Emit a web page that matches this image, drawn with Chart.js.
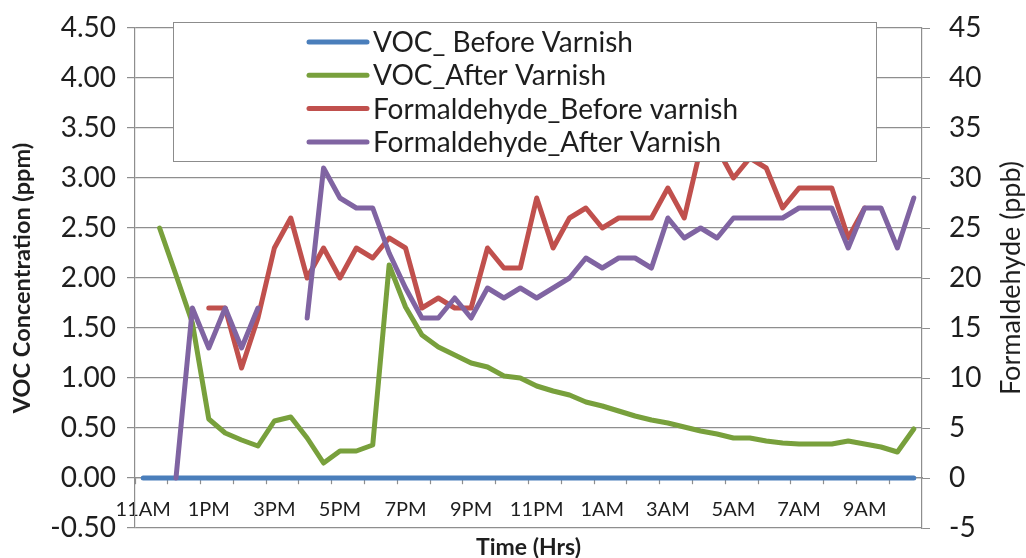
<!DOCTYPE html>
<html><head><meta charset="utf-8">
<script src="https://cdn.jsdelivr.net/npm/chart.js@4.4.1/dist/chart.umd.min.js"></script>
<style>html,body{margin:0;padding:0;background:#fff;}#wrap{width:1026px;height:558px;position:relative;}</style>
</head><body><div id="wrap"><canvas id="c"></canvas></div>
<script>
const categories = ['11AM','11:30AM','12PM','12:30PM','1PM','1:30PM','2PM','2:30PM','3PM','3:30PM','4PM','4:30PM',
  '5PM','5:30PM','6PM','6:30PM','7PM','7:30PM','8PM','8:30PM','9PM','9:30PM','10PM','10:30PM',
  '11PM','11:30PM','12AM','12:30AM','1AM','1:30AM','2AM','2:30AM','3AM','3:30AM','4AM','4:30AM',
  '5AM','5:30AM','6AM','6:30AM','7AM','7:30AM','8AM','8:30AM','9AM','9:30AM','10AM','10:30AM'];

const vocBefore = [0,0,0,0,0,0,0,0,0,0,0,0,0,0,0,0,0,0,0,0,0,0,0,0,0,0,0,0,0,0,0,0,0,0,0,0,0,0,0,0,0,0,0,0,0,0,0,0];

const vocAfter = [null,2.50,2.03,1.55,0.59,0.45,0.38,0.32,0.57,0.61,0.40,0.15,
  0.27,0.27,0.33,2.13,1.71,1.43,1.31,1.23,1.15,1.11,1.02,1.00,
  0.92,0.87,0.83,0.76,0.72,0.67,0.62,0.58,0.55,0.51,0.47,0.44,
  0.40,0.40,0.37,0.35,0.34,0.34,0.34,0.37,0.34,0.31,0.26,0.49];

const formBefore = [null,null,null,null,17,17,11,16,23,26,20,23,
  20,23,22,24,23,17,18,17,17,23,21,21,
  28,23,26,27,25,26,26,26,29,26,33,33,
  30,32,31,27,29,29,29,24,27,null,null,null];

const formAfter = [null,null,0,17,13,17,13,17,null,null,16,31,
  28,27,27,22.5,19,16,16,18,16,19,18,19,
  18,19,20,22,21,22,22,21,26,24,25,24,
  26,26,26,26,27,27,27,23,27,27,23,28];

const seriesNames = ['VOC_ Before Varnish','VOC_After Varnish','Formaldehyde_Before varnish','Formaldehyde_After Varnish'];
const seriesColors = ['#4A7EBB','#78A03C','#C0504D','#8064A2'];

const FONT = 'Lato, "Open Sans", sans-serif';
const GRID = '#8e8e8e';
const TXT = '#1e1e1e';

const overlay = {
  id: 'overlay',
  afterDraw(chart) {
    const ctx = chart.ctx;
    ctx.save();
    ctx.fillStyle = '#fff';
    ctx.strokeStyle = '#8c8c8c';
    ctx.lineWidth = 1;
    ctx.fillRect(173.5, 22.5, 703, 139);
    ctx.strokeRect(173.5, 22.5, 703, 139);
    chart.data.datasets.forEach((ds, i) => {
      const y = 42 + i * 33.3;
      ctx.strokeStyle = ds.borderColor;
      ctx.lineWidth = 5;
      ctx.lineCap = 'round';
      ctx.beginPath(); ctx.moveTo(309, y); ctx.lineTo(367, y); ctx.stroke();
      ctx.fillStyle = TXT;
      ctx.font = '28px ' + FONT;
      ctx.textBaseline = 'middle';
      ctx.textAlign = 'left';
      ctx.fillText(ds.label, 373, y + 1);
    });
    ctx.translate(1011, 278);
    ctx.rotate(-Math.PI / 2);
    ctx.fillStyle = TXT;
    ctx.font = '27px ' + FONT;
    ctx.textAlign = 'center';
    ctx.textBaseline = 'middle';
    ctx.fillText('Formaldehyde (ppb)', 0, 0);
    ctx.restore();
  }
};

const lineStyle = {pointRadius: 0, pointHoverRadius: 0, borderWidth: 5, tension: 0, spanGaps: false,
  borderJoinStyle: 'round', borderCapStyle: 'round', fill: false};

new Chart(document.getElementById('c'), {
  type: 'line',
  data: {
    labels: categories,
    datasets: [
      Object.assign({label: seriesNames[0], data: vocBefore, borderColor: seriesColors[0], backgroundColor: seriesColors[0], yAxisID: 'y', order: 4}, lineStyle),
      Object.assign({label: seriesNames[1], data: vocAfter, borderColor: seriesColors[1], backgroundColor: seriesColors[1], yAxisID: 'y', order: 3}, lineStyle),
      Object.assign({label: seriesNames[2], data: formBefore, borderColor: seriesColors[2], backgroundColor: seriesColors[2], yAxisID: 'y2', order: 2}, lineStyle),
      Object.assign({label: seriesNames[3], data: formAfter, borderColor: seriesColors[3], backgroundColor: seriesColors[3], yAxisID: 'y2', order: 1}, lineStyle)
    ]
  },
  options: {
    responsive: true,
    maintainAspectRatio: false,
    animation: false,
    layout: {padding: {top: 28, left: 0, right: 0, bottom: 30}},
    plugins: {legend: {display: false}, tooltip: {enabled: false}},
    scales: {
      x: {
        type: 'category',
        position: {y: 0},
        offset: true,
        grid: {offset: true, drawOnChartArea: false, drawTicks: true, tickLength: 6,
          tickColor: (c) => (c.index % 2 === 0 ? GRID : 'rgba(0,0,0,0)'), tickWidth: 1.2},
        border: {display: true, color: GRID, width: 1.2},
        ticks: {autoSkip: false, maxRotation: 0, minRotation: 0, padding: 14, color: TXT,
          font: {family: FONT, size: 20},
          callback: function (v, i) { return i % 4 === 0 ? categories[i] : ''; }},
        title: {display: true, text: 'Time (Hrs)', color: TXT, font: {family: FONT, size: 23, weight: 'bold'},
          padding: {top: 0, bottom: -53}},
        afterFit: (s) => { s.height = 30; s.paddingLeft = 0; s.paddingRight = 0; }
      },
      y: {
        position: 'left',
        min: -0.5, max: 4.5,
        grid: {color: GRID, lineWidth: 1.2, drawTicks: true, tickLength: 8, tickColor: GRID},
        border: {display: true, color: GRID, width: 1.2},
        ticks: {stepSize: 0.5, padding: 11, color: TXT, font: {family: FONT, size: 28},
          callback: (v) => Number(v).toFixed(2)},
        title: {display: true, text: 'VOC Concentration (ppm)', color: TXT,
          font: {family: FONT, size: 23.5, weight: 'bold'}, padding: {top: 8, bottom: 0}},
        afterFit: (s) => { s.width = 135; s.paddingTop = 0; s.paddingBottom = 0; }
      },
      y2: {
        position: 'right',
        min: -5, max: 45,
        grid: {drawOnChartArea: false, drawTicks: true, tickLength: 8, tickColor: GRID},
        border: {display: true, color: GRID, width: 1.2},
        ticks: {stepSize: 5, padding: 19, color: TXT, font: {family: FONT, size: 28}},
        afterFit: (s) => { s.width = 104; s.paddingTop = 0; s.paddingBottom = 0; }
      }
    }
  },
  plugins: [overlay]
});
</script>
</body></html>
